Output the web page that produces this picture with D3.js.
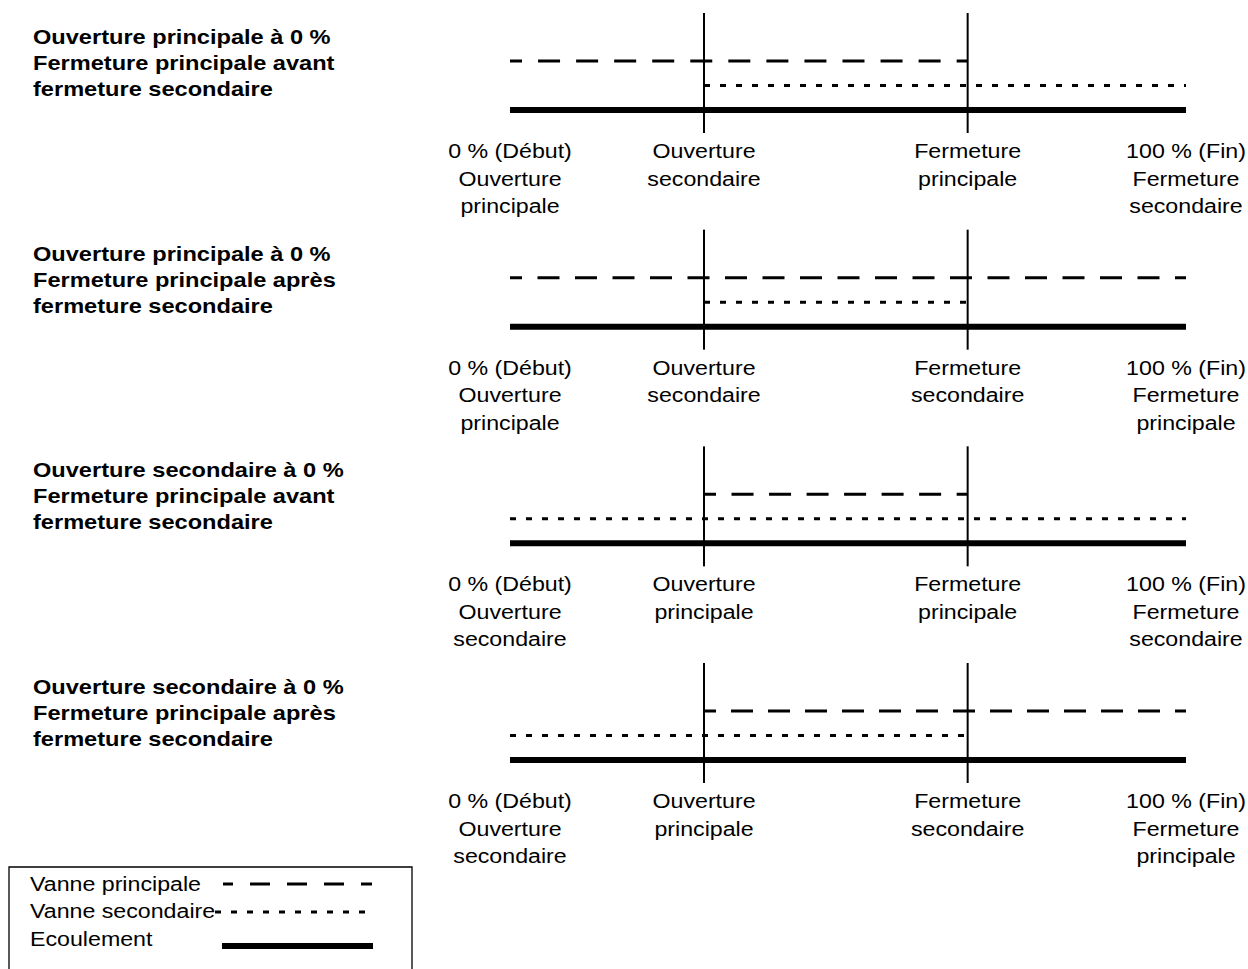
<!DOCTYPE html>
<html>
<head>
<meta charset="utf-8">
<script src="https://cdn.jsdelivr.net/npm/d3@7/dist/d3.min.js"></script>
<style>
  html, body { margin: 0; padding: 0; background: #fff; }
  svg { display: block; }
  text { font-family: "Liberation Sans", Arial, Helvetica, sans-serif; fill: #000; }
</style>
</head>
<body>
<svg id="chart" width="1248" height="969"></svg>
<script>
// ---- data ----
const panelTitles = [
  ["Ouverture principale à 0 %", "Fermeture principale avant", "fermeture secondaire"],
  ["Ouverture principale à 0 %", "Fermeture principale après", "fermeture secondaire"],
  ["Ouverture secondaire à 0 %", "Fermeture principale avant", "fermeture secondaire"],
  ["Ouverture secondaire à 0 %", "Fermeture principale après", "fermeture secondaire"]
];
const eventPositions = [0, 28.7, 67.7, 100];   // % of the sequence
const eventLabels = [
  [["0 % (Début)", "Ouverture", "principale"], ["Ouverture", "secondaire"], ["Fermeture", "principale"], ["100 % (Fin)", "Fermeture", "secondaire"]],
  [["0 % (Début)", "Ouverture", "principale"], ["Ouverture", "secondaire"], ["Fermeture", "secondaire"], ["100 % (Fin)", "Fermeture", "principale"]],
  [["0 % (Début)", "Ouverture", "secondaire"], ["Ouverture", "principale"], ["Fermeture", "principale"], ["100 % (Fin)", "Fermeture", "secondaire"]],
  [["0 % (Début)", "Ouverture", "secondaire"], ["Ouverture", "principale"], ["Fermeture", "secondaire"], ["100 % (Fin)", "Fermeture", "principale"]]
];
const principalSpans = [[0, 67.7], [0, 100], [28.7, 67.7], [28.7, 100]];
const secondarySpans = [[28.7, 100], [28.7, 67.7], [0, 100], [0, 67.7]];
const flowSpans = [[0, 100], [0, 100], [0, 100], [0, 100]];
const legendLabels = ["Vanne principale", "Vanne secondaire", "Ecoulement"];

// ---- styles ----
const styles = {
  principal: { width: 3, dash: 22, gap: 16, kind: "dash" },
  secondary: { width: 3, dash: 6, gap: 10, kind: "dot" },
  flow: { width: 6, kind: "solid" }
};

const svg = d3.select("#chart");
const x = d3.scaleLinear().domain([0, 100]).range([510, 1186]);
const panelY = d3.scaleLinear().domain([0, 3]).range([110, 760]); // flow baseline per panel
const levelY = d3.scaleLinear().domain([0, 2]).range([0, -49]);   // 0 flow, 1 secondary, 2 principal

const REG = 20, REGSX = 1.16, BOLD = 20, BOLDSX = 1.18;

function stretchedText(g, str, tx, ty, size, sx, anchor, weight) {
  g.append("text")
    .attr("transform", `translate(${tx},${ty}) scale(${sx},1)`)
    .attr("text-anchor", anchor)
    .attr("font-size", size)
    .attr("font-weight", weight)
    .text(str);
}

// dashed line with partial dashes at both ends (first ~12px, last ~11px)
function applyDash(l, st, L) {
  if (st.kind === "dash") {
    const a = 12, b = 11;
    const n = Math.max(1, Math.round((L - a - b - st.gap) / (st.dash + st.gap)));
    const g = (L - a - b - n * st.dash) / (n + 1);
    l.attr("stroke-dasharray", `${st.dash},${g}`).attr("stroke-dashoffset", st.dash - a);
  } else if (st.kind === "dot") {
    l.attr("stroke-dasharray", `${st.dash},${st.gap}`);
  }
}

function seg(g, span, level, st) {
  const x1 = x(span[0]), x2 = x(span[1]);
  const l = g.append("line")
    .attr("x1", x1).attr("x2", x2)
    .attr("y1", levelY(level)).attr("y2", levelY(level))
    .attr("stroke", "#000").attr("stroke-width", st.width);
  applyDash(l, st, x2 - x1);
}

panelTitles.forEach((title, i) => {
  const base = panelY(i);
  const g = svg.append("g").attr("transform", `translate(0,${base})`);

  // title
  title.forEach((t, k) => stretchedText(g, t, 33, -66 + k * 26, BOLD, BOLDSX, "start", "bold"));

  // event verticals (inner events)
  [eventPositions[1], eventPositions[2]].forEach(p => {
    g.append("line")
      .attr("x1", x(p)).attr("x2", x(p))
      .attr("y1", -97).attr("y2", 23)
      .attr("stroke", "#000").attr("stroke-width", 2);
  });

  seg(g, flowSpans[i], 0, styles.flow);
  seg(g, secondarySpans[i], 1, styles.secondary);
  seg(g, principalSpans[i], 2, styles.principal);

  // labels
  eventLabels[i].forEach((lines, j) => {
    lines.forEach((t, k) => stretchedText(g, t, x(eventPositions[j]), 48 + k * 27.5, REG, REGSX, "middle", "normal"));
  });
});

// ---- legend ----
const lg = svg.append("g");
lg.append("path")
  .attr("d", "M9,980 L9,867 L412,867 L412,980")
  .attr("fill", "none").attr("stroke", "#000").attr("stroke-width", 1.3);
const legendY = [884, 912, 946];
const legendStyles = [{ width: 3, dash: 20, gap: 17, kind: "dash" }, styles.secondary, styles.flow];
const legendX = [[223, 372], [215, 370], [222, 373]];
legendLabels.forEach((t, k) => {
  stretchedText(lg, t, 30, [891, 918, 946][k], REG, REGSX, "start", "normal");
  const st = legendStyles[k];
  const l = lg.append("line")
    .attr("x1", legendX[k][0]).attr("x2", legendX[k][1])
    .attr("y1", legendY[k]).attr("y2", legendY[k])
    .attr("stroke", "#000").attr("stroke-width", st.width);
  if (k === 0) l.attr("stroke-dasharray", "20,17").attr("stroke-dashoffset", 10);
  else applyDash(l, st, legendX[k][1] - legendX[k][0]);
});
</script>
</body>
</html>
